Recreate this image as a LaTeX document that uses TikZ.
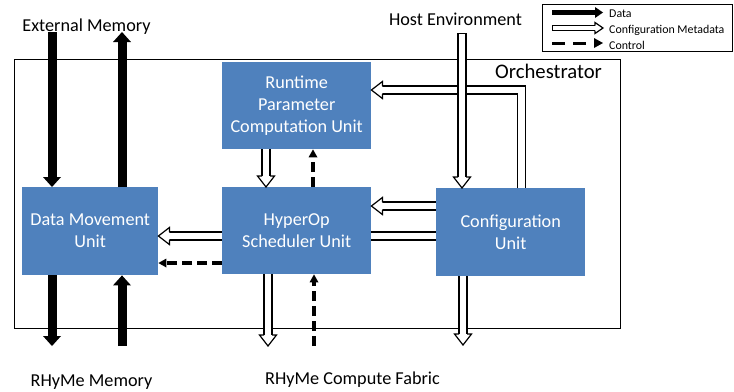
\documentclass[tikz,border=0pt]{standalone}
\usepackage{fontspec}
\setmainfont{Carlito}
\usetikzlibrary{calc}
\definecolor{unitblue}{HTML}{4F81BD}

\newcommand\mainsz{\fontsize{18.2bp}{22bp}\selectfont}
\newcommand\orchsz{\fontsize{20.7bp}{24bp}\selectfont}
\newcommand\legsz{\fontsize{11.9bp}{14bp}\selectfont}

% open (configuration metadata) head: #1 head base centre, #2 tip, #3 shaft outline offset, #4 head half width, #5 outline width
\newcommand\ohead[5]{%
  \filldraw[fill=white, line width=#5, line join=miter]
    ($(#1)!#3!90:(#2)$) -- ($(#1)!#4!90:(#2)$) -- (#2) --
    ($(#1)!#4!-90:(#2)$) -- ($(#1)!#3!-90:(#2)$);
}
% open arrow: #1 start, #2 tip, #3 outer width, #4 inner width, #5 outline offset, #6 head half width, #7 head length, #8 white options
\newcommand\openarr[8]{%
  \coordinate (oaA) at (#1);
  \coordinate (oaB) at (#2);
  \coordinate (oaH) at ($(oaB)!#7!(oaA)$);
  \draw[line width=#3] (oaA) -- (oaH);
  \draw[line width=#4, white, #8] (oaA) -- (oaH);
  \ohead{oaH}{oaB}{#5}{#6}{1.2bp}
}
% data arrow: #1 start, #2 tip, #3 shaft width, #4 head half width, #5 head length
\newcommand\dataarr[5]{%
  \coordinate (daA) at (#1);
  \coordinate (daB) at (#2);
  \coordinate (daH) at ($(daB)!#5!(daA)$);
  \draw[line width=#3, shorten >=-0.5bp] (daA) -- (daH);
  \fill ($(daH)!#4!90:(daB)$) -- (daB) -- ($(daH)!#4!-90:(daB)$) -- cycle;
}
% control arrow: #1 start, #2 tip, #3 line width, #4 dash pattern, #5 head half width, #6 head length
\newcommand\ctrlarr[6]{%
  \coordinate (caA) at (#1);
  \coordinate (caB) at (#2);
  \coordinate (caH) at ($(caB)!#6!(caA)$);
  \draw[line width=#3, dash pattern=#4] (caA) -- (caH);
  \fill ($(caH)!#5!90:(caB)$) -- (caB) -- ($(caH)!#5!-90:(caB)$) -- cycle;
}

\tikzset{
  unit/.style={fill=unitblue, text=white, align=center, inner sep=0pt,
    font=\mainsz, anchor=north west},
  label/.style={inner sep=0pt, anchor=base, font=\mainsz},
  frame/.style={draw, line width=1.3bp, inner sep=0pt, anchor=north west}
}

\begin{document}
\begin{tikzpicture}[x=1bp, y=-1bp]
\useasboundingbox (0,0) rectangle (734,391);

% frames
\node[frame, minimum width=606bp, minimum height=269bp] (orch) at (14,59) {};
\node[frame, minimum width=190bp, minimum height=47bp] (legend) at (542,4) {};

% labels
\node[label] (extmem) at (86.5,31) {External Memory};
\node[label] (host) at (455.5,25) {Host Environment};
\node[label, anchor=base west, font=\orchsz] (orchlbl) at (495,78) {Orchestrator};
\node[label] (rmem) at (91.5,386) {RHyMe Memory};
\node[label] (rfab) at (352.5,384) {RHyMe Compute Fabric};

% units
\node[unit, minimum width=149bp, minimum height=87bp] (rpcu) at (222,62) {Runtime\\Parameter\\Computation Unit};
\node[unit, minimum width=136bp, minimum height=88bp] (dmu) at (22,187) {Data Movement\\Unit};
\node[unit, minimum width=149bp, minimum height=87bp] (hs) at (222,187) {HyperOp\\Scheduler Unit};
\node[unit, minimum width=149bp, minimum height=88bp] (cu) at (436,188) {Configuration\\Unit};

% helper coordinates
\coordinate (xa) at (52,0);
\coordinate (xb) at (122,0);
\coordinate (ema) at (52,32);
\coordinate (emb) at (122,32);
\coordinate (rma) at (52,346);
\coordinate (rmb) at (122,346);
\coordinate (hostS) at (462,33);
\coordinate (xrh) at (266,0);
\coordinate (xc) at (313,0);
\coordinate (ya) at (0,206);
\coordinate (yb) at (0,236);
\coordinate (yc) at (0,263);
\coordinate (cfo) at (268,346);
\coordinate (cfc) at (314,346);
\coordinate (cuo) at (463,345);
\coordinate (xbend) at (521.5,0);
\coordinate (ybend) at (0,90);

% configuration -> runtime (bent)
\coordinate (bendTip) at (rpcu.east |- ybend);
\coordinate (bendH) at ($(bendTip)+(11,0)$);
\draw[line width=9.2bp, line join=miter] (xbend |- cu.north) -- (xbend |- ybend) -- (bendH);
\draw[line width=6.8bp, white, line join=miter] (xbend |- cu.north) -- (xbend |- ybend) -- (bendH);
\ohead{bendH}{bendTip}{4bp}{8.5bp}{1.2bp}

% host environment -> configuration
\openarr{hostS}{hostS |- cu.north}{9.2bp}{6.8bp}{4bp}{8.5bp}{11bp}{shorten <=1.2bp}

% runtime -> scheduler
\openarr{xrh |- rpcu.south}{xrh |- hs.north}{9.2bp}{6.8bp}{4bp}{8.5bp}{11bp}{}
% configuration -> scheduler
\openarr{cu.west |- ya}{hs.east |- ya}{9.2bp}{6.8bp}{4bp}{8.5bp}{11bp}{}
% configuration -> data movement (passing behind scheduler)
\draw[line width=9.2bp] (cu.west |- yb) -- (hs.east |- yb);
\draw[line width=6.8bp, white] (cu.west |- yb) -- (hs.east |- yb);
\openarr{hs.west |- yb}{dmu.east |- yb}{9.2bp}{6.8bp}{4bp}{8.5bp}{11bp}{}
% scheduler -> compute fabric
\openarr{cfo |- hs.south}{cfo}{9.2bp}{6.8bp}{4bp}{8.5bp}{11bp}{}
% configuration -> compute fabric
\openarr{cuo |- cu.south}{cuo}{9.2bp}{6.8bp}{4bp}{8.5bp}{11bp}{}

% data arrows
\dataarr{ema}{xa |- dmu.north}{9bp}{9bp}{10bp}
\dataarr{xb |- dmu.north}{emb}{9bp}{9bp}{10bp}
\dataarr{xa |- dmu.south}{rma}{9bp}{9bp}{10bp}
\dataarr{rmb}{xb |- dmu.south}{9bp}{9bp}{10bp}

% control arrows
\ctrlarr{xc |- hs.north}{xc |- rpcu.south}{3.5bp}{on 10bp off 5bp}{4.5bp}{8bp}
\ctrlarr{cfc}{cfc |- hs.south}{3.5bp}{on 10bp off 5bp}{4.5bp}{8bp}
\ctrlarr{hs.west |- yc}{dmu.east |- yc}{3.5bp}{on 10bp off 5bp}{4.5bp}{8bp}

% legend
\coordinate (lgA1) at (552,12.5);
\coordinate (lgB1) at (603,12.5);
\coordinate (lgA2) at (552,28);
\coordinate (lgB2) at (603,28);
\coordinate (lgA3) at (552,43);
\coordinate (lgB3) at (603,43);
\dataarr{lgA1}{lgB1}{5bp}{5.5bp}{8bp}
\coordinate (lgH2) at ($(lgB2)+(-8,0)$);
\draw[line width=6.2bp] (lgA2) -- (lgH2);
\draw[line width=3.8bp, white, shorten <=1.2bp] (lgA2) -- (lgH2);
\ohead{lgH2}{lgB2}{2.5bp}{5.5bp}{1.2bp}
\ctrlarr{lgA3}{lgB3}{3bp}{on 13bp off 8bp}{5bp}{9bp}
\node[inner sep=0pt, anchor=base west, font=\legsz] (lgt1) at (609,17) {Data};
\node[inner sep=0pt, anchor=base west, font=\legsz] (lgt2) at (609,33) {Configuration Metadata};
\node[inner sep=0pt, anchor=base west, font=\legsz] (lgt3) at (609,49) {Control};
\end{tikzpicture}
\end{document}
